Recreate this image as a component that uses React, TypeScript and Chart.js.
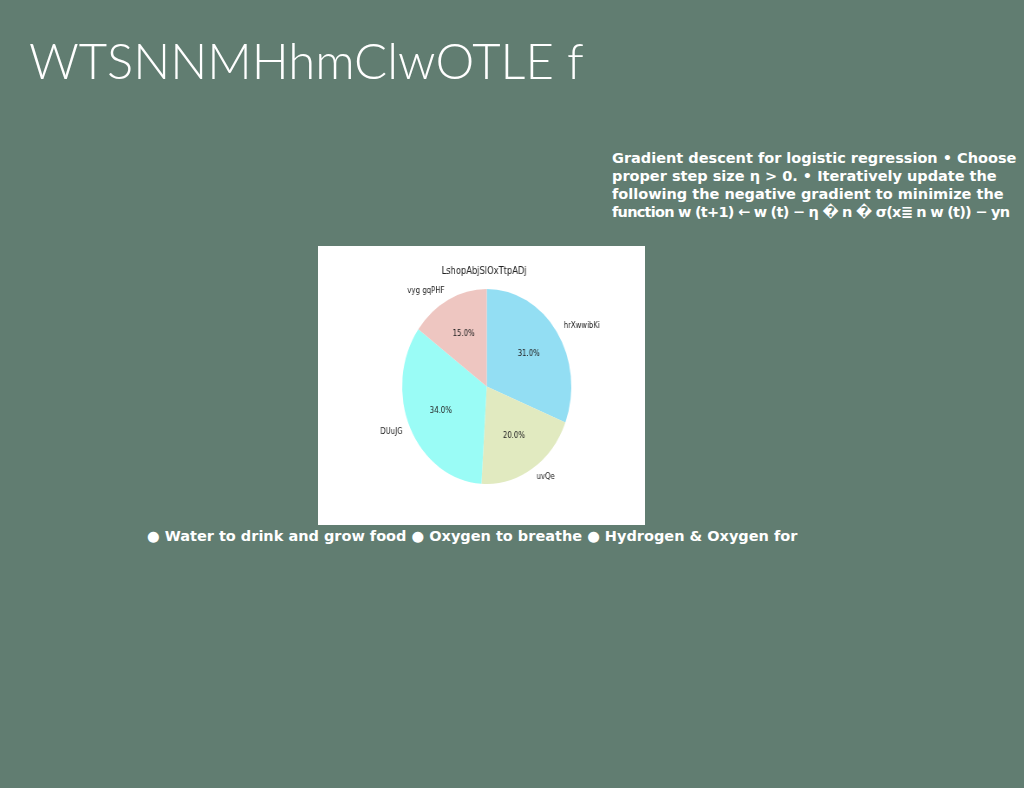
import React, { useEffect, useRef } from "react";
import { Chart, registerables } from "chart.js";

Chart.register(...registerables);

const slideTitle = "WTSNNMHhmClwOTLE f";
const chartTitle = "LshopAbjSlOxTtpADj";
const categories = ["hrXwwibKi", "uvQe", "DUuJG", "vyg gqPHF"];
const shares = [31, 20, 34, 15];
const sliceColors = ["#93def3", "#e1eac0", "#9afcf6", "#eec6c1"];
const noteLines = [
  "Gradient descent for logistic regression \u2022 Choose",
  "proper step size \u03b7 > 0. \u2022 Iteratively update the",
  "following the negative gradient to minimize the",
  "function w (t+1) \u2190 w (t) \u2212 \u03b7 \uFFFD n \uFFFD \u03c3(x\u2263 n w (t)) \u2212 yn",
];
const bulletLine =
  "\u25CF Water to drink and grow food \u25CF Oxygen to breathe \u25CF Hydrogen & Oxygen for";

const CANVAS_W = 377;
const CANVAS_H = 279;
const SCALE_X = 0.8674;

const labelPlugin = {
  id: "pieLabels",
  afterDraw(chart: any) {
    const ctx = chart.ctx;
    const meta = chart.getDatasetMeta(0);
    ctx.save();
    ctx.fillStyle = "#222";
    ctx.font = '9.6px "DejaVu Sans"';
    ctx.textAlign = "center";
    ctx.textBaseline = "middle";
    ctx.fillText(chartTitle, chart.width / 2 + 3, 25);
    ctx.font = '8px "DejaVu Sans"';
    meta.data.forEach((arc: any, i: number) => {
      const { x, y, startAngle, endAngle, outerRadius } = arc.getProps(
        ["x", "y", "startAngle", "endAngle", "outerRadius"],
        true
      );
      const mid = (startAngle + endAngle) / 2;
      const c = Math.cos(mid);
      const s = Math.sin(mid);
      ctx.textAlign = c >= 0 ? "left" : "right";
      ctx.fillText(categories[i], x + 1.1 * outerRadius * c, y + 1.1 * outerRadius * s);
      ctx.textAlign = "center";
      ctx.fillText(
        shares[i].toFixed(1) + "%",
        x + 0.6 * outerRadius * c,
        y + 0.6 * outerRadius * s
      );
    });
    ctx.restore();
  },
};

function PieChart() {
  const ref = useRef<HTMLCanvasElement>(null);
  useEffect(() => {
    if (!ref.current) return;
    const chart = new Chart(ref.current, {
      type: "pie",
      data: {
        labels: categories,
        datasets: [
          {
            data: shares,
            backgroundColor: sliceColors,
            borderWidth: 0,
          },
        ],
      },
      options: {
        responsive: false,
        devicePixelRatio: 1,
        animation: false,
        layout: { padding: { top: 43, bottom: 41, left: 97, right: 85 } },
        plugins: {
          legend: { display: false },
          tooltip: { enabled: false },
          title: { display: false },
        },
      },
      plugins: [labelPlugin],
    });
    return () => chart.destroy();
  }, []);
  return (
    <div
      style={{
        position: "absolute",
        left: 318,
        top: 246,
        width: 327,
        height: 279,
        background: "#ffffff",
        overflow: "hidden",
      }}
    >
      <div
        style={{
          width: CANVAS_W,
          height: CANVAS_H,
          transform: `scaleX(${SCALE_X})`,
          transformOrigin: "0 0",
        }}
      >
        <canvas ref={ref} width={CANVAS_W} height={CANVAS_H} />
      </div>
    </div>
  );
}

const boldText: React.CSSProperties = {
  position: "absolute",
  fontFamily: "'DejaVu Sans', sans-serif",
  fontWeight: 700,
  fontSize: 14.5,
  lineHeight: "18px",
  whiteSpace: "nowrap",
};

export default function App() {
  return (
    <div
      style={{
        position: "fixed",
        left: 0,
        top: 0,
        width: 1024,
        height: 788,
        background: "#617d71",
        overflow: "hidden",
        color: "#ffffff",
      }}
    >
      <div
        style={{
          position: "absolute",
          left: 29,
          top: 29,
          fontFamily: "Lato, 'Open Sans', sans-serif",
          fontWeight: 300,
          fontSize: 49,
          lineHeight: "62px",
          whiteSpace: "nowrap",
        }}
      >
        {slideTitle}
      </div>
      <div style={{ ...boldText, left: 612, top: 149 }}>
        {noteLines.map((l, i) => (
          <div
            key={i}
            style={i === noteLines.length - 1 ? { letterSpacing: "-0.75px" } : undefined}
          >
            {l}
          </div>
        ))}
      </div>
      <div style={{ ...boldText, left: 147, top: 527 }}>{bulletLine}</div>
      <PieChart />
    </div>
  );
}
